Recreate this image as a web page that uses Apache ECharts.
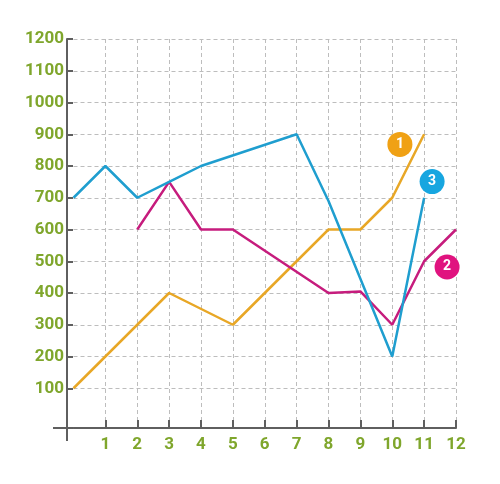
<!DOCTYPE html>
<html><head><meta charset="utf-8">
<script src="https://cdn.jsdelivr.net/npm/echarts@6/dist/echarts.min.js"></script>
<style>html,body{margin:0;padding:0;background:#fff}#c{width:500px;height:484px}</style>
</head><body><div id="c"></div>
<script>
const xTickLabels = [1,2,3,4,5,6,7,8,9,10,11,12];
const yTickLabels = [100,200,300,400,500,600,700,800,900,1000,1100,1200];
const s1x = [0,3,5,8,9,10,11];
const s1y = [100,400,300,600,600,700,900];
const s2x = [2,3,4,5,8,9,10,11,12];
const s2y = [600,750,600,600,400,405,300,500,600];
const s3x = [0,1,2,3,4,7,8,10,11];
const s3y = [700,800,700,750,800,900,690,200,700];
const badgeLabels = ['1','2','3'];

const green = '#7fa62c', axisCol = '#5f5f5f';
const pairs = (xs, ys) => xs.map((x,i)=>[x, ys[i]]);
const chart = echarts.init(document.getElementById('c'));
function badge(name, color, coord){
  return {symbol:'circle', symbolSize:25, silent:true,
    data:[{coord:coord, itemStyle:{color:color}, label:{show:true, formatter:name, position:'inside', color:'#fff', fontSize:14, fontWeight:'bold', fontFamily:'Roboto'}}]};
}
chart.setOption({
  animation:false,
  grid:{left:73.5, right:44, top:39, bottom:64},
  xAxis:{type:'value', min:0, max:12, interval:1, offset:8,
    axisLine:{show:true, onZero:false, lineStyle:{color:axisCol, width:2}},
    axisTick:{show:true, inside:true, length:8, customValues:xTickLabels, lineStyle:{color:axisCol, width:2}},
    axisLabel:{customValues:xTickLabels, formatter:v=>String(v), color:green, fontSize:17, fontWeight:'bold', fontFamily:'Roboto', margin:8},
    splitLine:{show:true, lineStyle:{color:'#bdbdbd', type:[4,3], width:1}}},
  yAxis:{type:'value', min:0, max:1200, interval:100, offset:6.5,
    axisLine:{show:true, onZero:false, lineStyle:{color:axisCol, width:2}},
    axisTick:{show:true, inside:true, length:6, customValues:yTickLabels, lineStyle:{color:axisCol, width:2}},
    axisLabel:{customValues:yTickLabels, formatter:v=>String(v), color:green, fontSize:17, fontWeight:'bold', fontFamily:'Roboto', margin:3},
    splitLine:{show:true, lineStyle:{color:'#bdbdbd', type:[4,3], width:1}}},
  series:[
    {type:'line', data:pairs(s1x,s1y), showSymbol:false, lineStyle:{color:'#e8a726', width:2.5}, z:3,
      markPoint:badge(badgeLabels[0], '#f0a114', [10.24, 868])},
    {type:'line', data:pairs(s2x,s2y), showSymbol:false, lineStyle:{color:'#c61c7d', width:2.5}, z:4,
      markPoint:badge(badgeLabels[1], '#e0137f', [11.72, 482])},
    {type:'line', data:pairs(s3x,s3y), showSymbol:false, lineStyle:{color:'#1f9ecf', width:2.5}, z:5,
      markPoint:badge(badgeLabels[2], '#17a6e0', [11.25, 751])}
  ]
});
const o = chart.convertToPixel({gridIndex:0}, [0,0]);
const yAxX = o[0]-6.5, xAxY = o[1]+8;
chart.setOption({graphic:[
  {type:'line', shape:{x1:yAxX, y1:o[1], x2:yAxX, y2:xAxY+13}, style:{stroke:axisCol, lineWidth:2}},
  {type:'line', shape:{x1:yAxX-14, y1:xAxY, x2:o[0], y2:xAxY}, style:{stroke:axisCol, lineWidth:2}}
]});
</script></body></html>
